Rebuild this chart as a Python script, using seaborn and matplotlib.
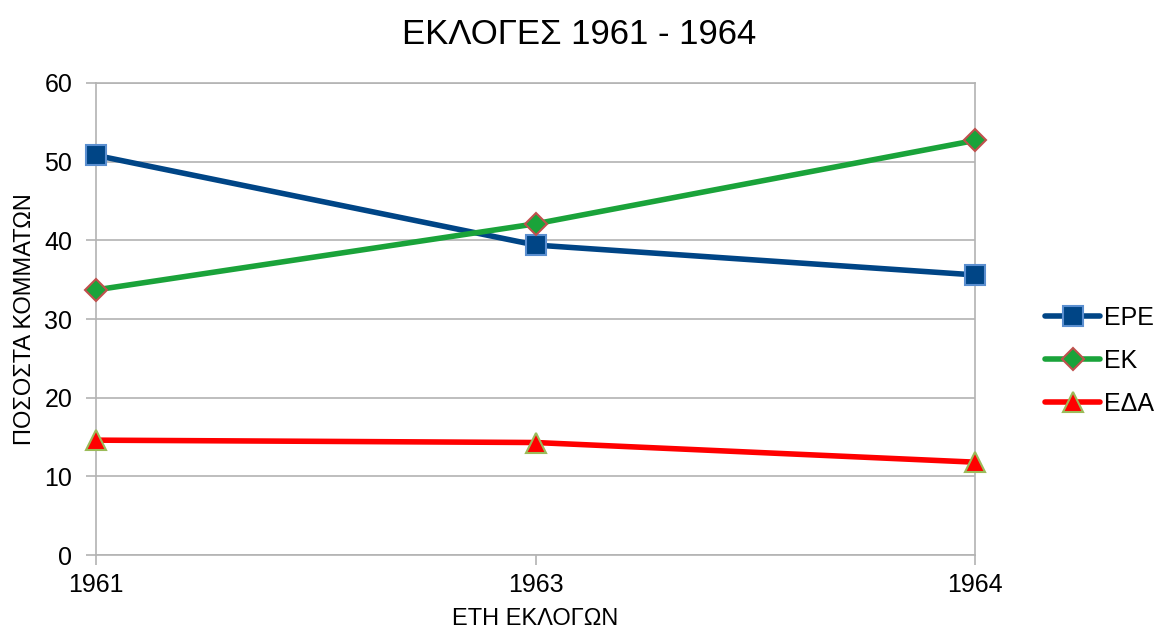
import numpy as np
import pandas as pd
import matplotlib
matplotlib.use("Agg")
import matplotlib.pyplot as plt
import seaborn as sns

# ── data ──
years = ["1961", "1963", "1964"]
ere = [50.8, 39.4, 35.6]
ek = [33.7, 42.1, 52.7]
eda = [14.6, 14.3, 11.8]

series = [
    # name, values, line colour, marker, face, edge, size
    ("ΕΡΕ", ere, "#004586", "s", "#004586", "#5b8fd0", 14),
    ("ΕΚ", ek, "#1aa33a", "D", "#1aa33a", "#c0504d", 11),
    ("ΕΔΑ", eda, "#ff0000", "^", "#ff0000", "#9bbb59", 15),
]

sns.set_theme(style="white")
plt.rcParams["font.family"] = ["Liberation Sans", "DejaVu Sans"]
plt.rcParams["text.color"] = "black"
plt.rcParams["axes.labelcolor"] = "black"

fig = plt.figure(figsize=(11.58, 6.33), dpi=100)
ax = fig.add_axes([0.0829, 0.1232, 0.7592, 0.7457])

xpos = np.arange(len(years))
for name, vals, lc, mk, fc, ec, ms in series:
    df = pd.DataFrame({"x": xpos, "y": vals})
    sns.lineplot(data=df, x="x", y="y", ax=ax, color=lc, linewidth=4,
                 marker=mk, markersize=ms, markerfacecolor=fc,
                 markeredgecolor=ec, markeredgewidth=1.5, label=name,
                 clip_on=False, zorder=3)

ax.set_xlim(0, len(years) - 1)
ax.set_ylim(0, 60)
ax.set_yticks(range(0, 61, 10))
ax.set_xticks(xpos)
ax.set_xticklabels(years)

# horizontal grid only, grey frame
ax.grid(True, axis="y", color="#b3b3b3", linewidth=1.2)
ax.grid(False, axis="x")
for s in ["left", "bottom", "right", "top"]:
    ax.spines[s].set_color("#b3b3b3")
    ax.spines[s].set_linewidth(1.2)

ax.tick_params(axis="both", which="major", labelsize=18, colors="#b3b3b3",
               labelcolor="black", length=7, width=1.2, direction="out",
               left=True, bottom=True)
ax.tick_params(axis="y", pad=10)
ax.tick_params(axis="x", pad=6)

ax.set_xlabel("ΕΤΗ ΕΚΛΟΓΩΝ", fontsize=17, labelpad=8)
ax.set_ylabel("ΠΟΣΟΣΤΑ ΚΟΜΜΑΤΩΝ", fontsize=17, labelpad=6)
# title is centred on the whole figure, not the axes
fig.text(0.5, 1 - 44 / 633, "ΕΚΛΟΓΕΣ 1961 - 1964", fontsize=25,
         ha="center", va="baseline")

leg = ax.legend(loc="center left", bbox_to_anchor=(1.0797, 0.411), frameon=False,
                fontsize=18, handlelength=2.2, handletextpad=0.15,
                labelspacing=0.76, borderpad=0, borderaxespad=0)

fig.savefig("out.png", dpi=100)
